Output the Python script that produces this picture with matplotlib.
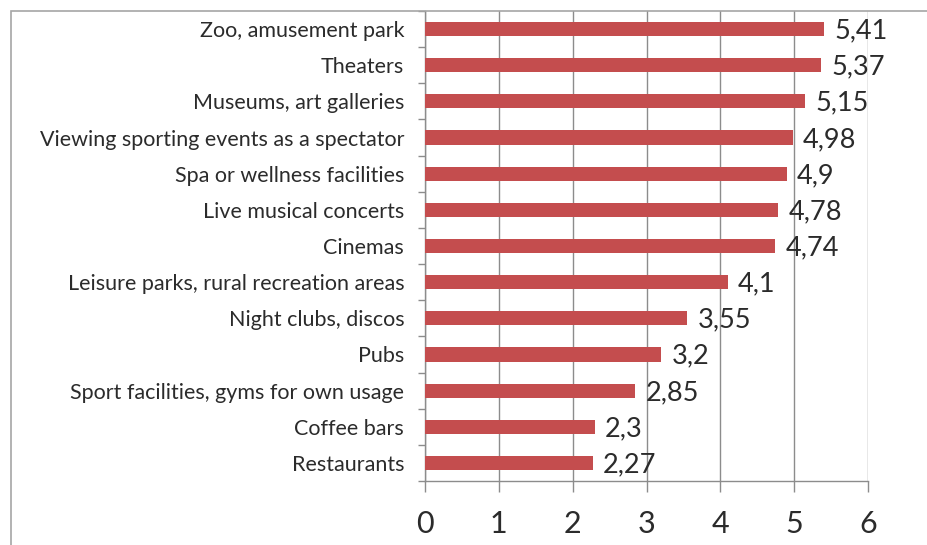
import matplotlib
matplotlib.use("Agg")
import matplotlib.pyplot as plt
from matplotlib.patches import Rectangle
from matplotlib.ticker import FixedLocator

categories = [
    "Zoo, amusement park",
    "Theaters",
    "Museums, art galleries",
    "Viewing sporting events as a spectator",
    "Spa or wellness facilities",
    "Live musical concerts",
    "Cinemas",
    "Leisure parks, rural recreation areas",
    "Night clubs, discos",
    "Pubs",
    "Sport facilities, gyms for own usage",
    "Coffee bars",
    "Restaurants",
]
values = [5.41, 5.37, 5.15, 4.98, 4.9, 4.78, 4.74, 4.1, 3.55, 3.2, 2.85, 2.3, 2.27]
x_ticks = [0, 1, 2, 3, 4, 5, 6]

plt.rcParams["font.family"] = ["Lato", "DejaVu Sans"]
text_color = "#2b2b2b"
grid_color = "#8c8c8c"
bar_color = "#C44D4E"

fig = plt.figure(figsize=(9.27, 5.45), dpi=100)
fig.patch.set_facecolor("white")

# outer chart frame
W, H = 927, 545
fig.add_artist(Rectangle((11 / W, -0.1), 1.2, 1 + 0.1 - 11 / H,
                         transform=fig.transFigure, fill=False,
                         edgecolor="#a6a6a6", linewidth=1.2))

ax = fig.add_axes([425 / W, 1 - 481 / H, (868 - 425) / W, (481 - 11) / H])
ypos = list(range(len(categories)))
ax.barh(ypos, values, height=0.39, color=bar_color, zorder=3)

for y, v in zip(ypos, values):
    ax.text(v + 0.14, y + 0.05, f"{v:g}".replace(".", ","), va="center", ha="left",
            fontsize=19.5, color=text_color, zorder=4)

ax.set_xlim(0, 6)
ax.set_ylim(len(categories) - 0.5, -0.5)
ax.set_xticks(x_ticks)
ax.set_xticklabels([str(t) for t in x_ticks], fontsize=22, color=text_color)
ax.set_yticks(ypos)
ax.set_yticklabels(categories, fontsize=15.5, color=text_color)
ax.yaxis.set_minor_locator(FixedLocator([i + 0.5 for i in range(-1, len(categories))]))

ax.tick_params(axis="x", length=8, width=1, color=grid_color, pad=13, direction="out")
ax.tick_params(axis="y", which="major", length=0, pad=15)
ax.tick_params(axis="y", which="minor", length=5, width=1, color=grid_color, direction="out")

ax.xaxis.grid(True, color=grid_color, linewidth=1)
ax.set_axisbelow(True)
for s in ["top", "right"]:
    ax.spines[s].set_visible(False)
for s in ["left", "bottom"]:
    ax.spines[s].set_color(grid_color)
    ax.spines[s].set_linewidth(1)

fig.savefig("out.png", dpi=100, facecolor="white")
